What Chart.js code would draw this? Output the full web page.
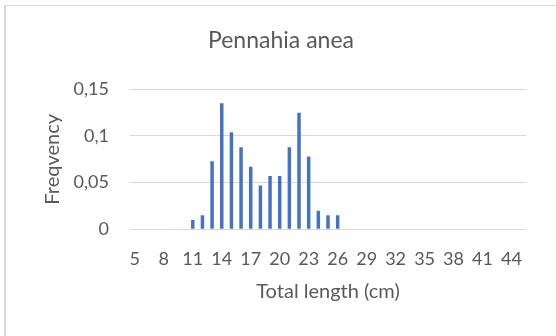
<!DOCTYPE html>
<html>
<head>
<meta charset="utf-8">
<script src="https://cdn.jsdelivr.net/npm/chart.js"></script>
<style>
  html, body { margin: 0; padding: 0; background: #fff; overflow: hidden; }
  #wrap { position: relative; width: 556px; height: 336px; }
  #frame {
    position: absolute; left: 4px; top: 5px; width: 600px; height: 400px;
    border-left: 2px solid #d9d9d9; border-top: 1px solid #d9d9d9;
  }
  canvas { position: absolute; left: 0; top: 0; }
</style>
</head>
<body>
<div id="wrap">
  <div id="frame"></div>
  <canvas id="lengthChart" width="556" height="336"></canvas>
</div>
<script>
// --- Length classes (cm) and relative frequency ---
const lengths = [5, 6, 7, 8, 9, 10, 11, 12, 13, 14, 15, 16, 17, 18, 19, 20, 21, 22, 23, 24, 25,
                 26, 27, 28, 29, 30, 31, 32, 33, 34, 35, 36, 37, 38, 39, 40, 41, 42, 43, 44, 45];
const frequency = [0, 0, 0, 0, 0, 0,
                   0.01, 0.015, 0.073, 0.135, 0.104, 0.088, 0.067, 0.047, 0.057, 0.057,
                   0.088, 0.125, 0.078, 0.02, 0.015, 0.015,
                   0, 0, 0, 0, 0, 0, 0, 0, 0, 0, 0, 0, 0, 0, 0, 0, 0, 0, 0];
const yTickValues = [0, 0.05, 0.1, 0.15];
const yTickLabels = ['0', '0,05', '0,1', '0,15'];

const textColor = '#595959';
const fontFamily = 'Lato, "Open Sans", sans-serif';

new Chart(document.getElementById('lengthChart'), {
    type: 'bar',
    data: {
        labels: lengths,
        datasets: [{
            label: 'Frequency',
            data: frequency,
            backgroundColor: '#4472c4',
            borderWidth: 0,
            categoryPercentage: 1,
            barPercentage: 0.36
        }]
    },
    options: {
        responsive: false,
        animation: false,
        layout: { padding: { left: 36, right: 30, top: 0, bottom: 0 } },
        plugins: {
            legend: { display: false },
            tooltip: { enabled: false },
            title: {
                display: true,
                text: 'Pennahia anea',
                color: textColor,
                font: { family: fontFamily, size: 23, weight: 'normal' },
                padding: { top: 27.2, bottom: 34.5 }
            }
        },
        scales: {
            x: {
                grid: { display: false, drawTicks: false },
                border: { display: false },
                ticks: {
                    autoSkip: false,
                    maxRotation: 0,
                    padding: 19,
                    color: textColor,
                    font: { family: fontFamily, size: 18 },
                    // every third length class is labelled
                    callback: function(value, index) {
                        return index % 3 === 0 ? String(lengths[index]) : '';
                    }
                },
                title: {
                    display: true,
                    text: 'Total length (cm)',
                    color: textColor,
                    font: { family: fontFamily, size: 20 },
                    padding: { top: 0, bottom: 32 }
                },
                afterFit: function(scale) { scale.height = 106.7; }
            },
            y: {
                min: 0,
                max: 0.15,
                grid: { color: '#d9d9d9', lineWidth: 1, drawTicks: false },
                border: { display: false },
                afterBuildTicks: function(scale) {
                    scale.ticks = yTickValues.map(v => ({ value: v }));
                },
                ticks: {
                    padding: 21,
                    color: textColor,
                    font: { family: fontFamily, size: 18 },
                    callback: function(value) {
                        return yTickLabels[yTickValues.indexOf(value)];
                    }
                },
                title: {
                    display: true,
                    text: 'Freqvency',
                    color: textColor,
                    font: { family: fontFamily, size: 20 },
                    padding: { top: 5, bottom: 0 }
                },
                afterFit: function(scale) { scale.width = 94; }
            }
        }
    }
});
</script>
</body>
</html>
